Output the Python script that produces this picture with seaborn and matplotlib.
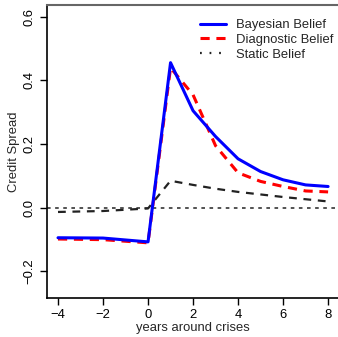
import pandas as pd
import matplotlib.pyplot as plt
import seaborn as sns
from matplotlib.lines import Line2D

years = [-4, -2, 0, 1, 2, 3, 4, 5, 6, 7, 8]
bayesian = [-0.094, -0.095, -0.107, 0.456, 0.305, 0.224, 0.154, 0.114, 0.088, 0.072, 0.067]
diagnostic = [-0.098, -0.100, -0.110, 0.440, 0.355, 0.195, 0.110, 0.083, 0.067, 0.053, 0.050]
static = [-0.013, -0.010, -0.002, 0.085, 0.072, 0.060, 0.050, 0.042, 0.034, 0.027, 0.020]
legend_labels = ["Bayesian Belief", "Diagnostic Belief", "Static Belief"]

df = pd.DataFrame({
    "year": years * 3,
    "spread": bayesian + diagnostic + static,
    "belief": ["bayes"] * len(years) + ["diag"] * len(years) + ["static"] * len(years),
})

sns.set_theme(style="ticks")
plt.rcParams["font.family"] = ["Liberation Sans", "DejaVu Sans"]

fig = plt.figure(figsize=(3.38, 3.37), dpi=100)
ax = fig.add_axes([0.139, 0.116, 0.861, 0.869])

# Nulllinie
ax.axhline(0, color="#444444", lw=1.3, ls=(0, (2, 2.5)), zorder=1)

for key, color, lw, ls in [
    ("static", "#222222", 1.6, (0, (3.5, 3))),
    ("diag", "#ff0000", 2.2, (0, (3, 2.2))),
    ("bayes", "#0000ff", 2.2, "-"),
]:
    sub = df[df["belief"] == key]
    sns.lineplot(data=sub, x="year", y="spread", color=color, lw=lw,
                 linestyle=ls, ax=ax, legend=False, zorder=3 if key == "bayes" else 2)

ax.set_xlim(-4.49, 8.44)
ax.set_ylim(-0.283, 0.637)
ax.set_xticks([-4, -2, 0, 2, 4, 6, 8])
ax.set_xticklabels(["\u22124", "\u22122", "0", "2", "4", "6", "8"])
ax.set_yticks([-0.2, 0.0, 0.2, 0.4, 0.6])
ax.set_yticklabels(["\u22120.2", "0.0", "0.2", "0.4", "0.6"], rotation=90, va="center")
ax.tick_params(labelsize=9.4, length=5, width=1, colors="black", pad=3)
ax.set_xlabel("years around crises", fontsize=9.4, labelpad=1)
ax.set_ylabel("Credit Spread", fontsize=9.4, labelpad=3)

for s in ["left", "bottom"]:
    ax.spines[s].set_color("black")
    ax.spines[s].set_linewidth(1.2)
ax.spines["top"].set_visible(True)
ax.spines["top"].set_color("#666666")
ax.spines["top"].set_linewidth(1.5)
ax.spines["right"].set_visible(False)

handles = [
    Line2D([], [], color="#0000ff", lw=2.2),
    Line2D([], [], color="#ff0000", lw=2.2, ls=(0, (3, 2.2))),
    Line2D([], [], color="#222222", lw=1.6, ls=(0, (0.8, 3.5))),
]
ax.legend(handles, legend_labels, loc="upper right", frameon=False, fontsize=9.4,
          handlelength=2.0, handletextpad=0.8, labelspacing=0.2,
          bbox_to_anchor=(1.025, 0.992))

fig.savefig("out.png", dpi=100)
